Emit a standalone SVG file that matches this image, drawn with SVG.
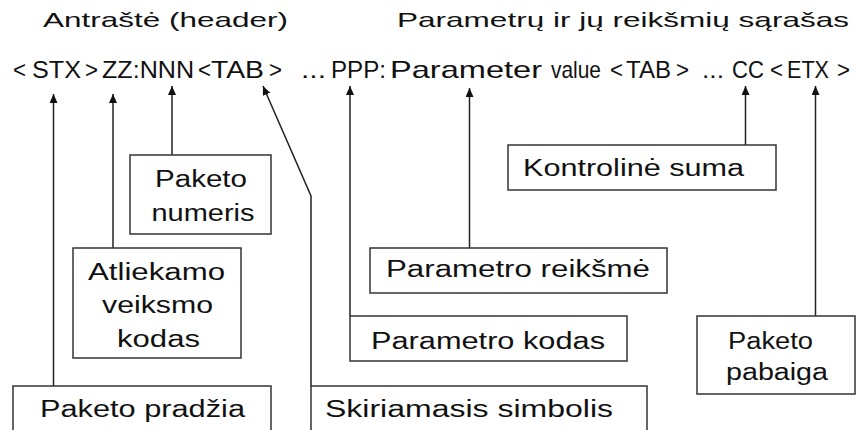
<svg xmlns="http://www.w3.org/2000/svg" width="856" height="430" viewBox="0 0 856 430">
  <style>
    text { font-family: "Liberation Sans", Arial, sans-serif; fill: #111; }
    .title { font-size: 21px; }
    .frame { font-size: 24px; }
    .lbl { font-size: 23px; }
    .box { fill: #fff; stroke: #333; stroke-width: 1.5; }
    .link { fill: none; stroke: #222; stroke-width: 1.5; }
  </style>
  <defs>
    <marker id="arrow" markerUnits="userSpaceOnUse" markerWidth="12" markerHeight="10" refX="9" refY="4" orient="auto">
      <path d="M0,0 L9,4 L0,8 Z" fill="#111"/>
    </marker>
  </defs>

  <rect width="856" height="430" fill="#fff"/>

  <!-- section titles -->
  <g id="titles">
    <text class="title" x="43" y="27" textLength="245" lengthAdjust="spacingAndGlyphs">Antraštė (header)</text>
    <text class="title" x="397" y="27" textLength="452" lengthAdjust="spacingAndGlyphs">Parametrų ir jų reikšmių sąrašas</text>
  </g>

  <!-- packet frame layout -->
  <g id="frame" class="frame">
    <text x="13" y="78" textLength="13" lengthAdjust="spacingAndGlyphs">&lt;</text>
    <text x="32" y="78" textLength="49" lengthAdjust="spacingAndGlyphs">STX</text>
    <text x="85" y="78" textLength="13" lengthAdjust="spacingAndGlyphs">&gt;</text>
    <text x="102" y="78" textLength="92" lengthAdjust="spacingAndGlyphs">ZZ:NNN</text>
    <text x="198" y="78" textLength="13" lengthAdjust="spacingAndGlyphs">&lt;</text>
    <text x="211" y="78" textLength="53" lengthAdjust="spacingAndGlyphs">TAB</text>
    <text x="269" y="78" textLength="13" lengthAdjust="spacingAndGlyphs">&gt;</text>
    <text x="301" y="78" textLength="25" lengthAdjust="spacingAndGlyphs">...</text>
    <text x="331" y="78" textLength="55" lengthAdjust="spacingAndGlyphs">PPP:</text>
    <text x="390" y="78" textLength="152" lengthAdjust="spacingAndGlyphs">Parameter</text>
    <text x="551" y="78" textLength="50" lengthAdjust="spacingAndGlyphs">value</text>
    <text x="610" y="78" textLength="13" lengthAdjust="spacingAndGlyphs">&lt;</text>
    <text x="626" y="78" textLength="45" lengthAdjust="spacingAndGlyphs">TAB</text>
    <text x="676" y="78" textLength="13" lengthAdjust="spacingAndGlyphs">&gt;</text>
    <text x="702" y="78" textLength="22" lengthAdjust="spacingAndGlyphs">...</text>
    <text x="732" y="78" textLength="32" lengthAdjust="spacingAndGlyphs">CC</text>
    <text x="770" y="78" textLength="13" lengthAdjust="spacingAndGlyphs">&lt;</text>
    <text x="787" y="78" textLength="42" lengthAdjust="spacingAndGlyphs">ETX</text>
    <text x="837" y="78" textLength="13" lengthAdjust="spacingAndGlyphs">&gt;</text>
  </g>

  <!-- connectors from the labels to the frame fields -->
  <g id="connectors">
    <path class="link" d="M53.5,386 V94" marker-end="url(#arrow)"/>
    <path class="link" d="M113,248 V94" marker-end="url(#arrow)"/>
    <path class="link" d="M172,155 V86" marker-end="url(#arrow)"/>
    <path class="link" d="M311,386 V196 L263,86" marker-end="url(#arrow)"/>
    <path class="link" d="M350,316 V86" marker-end="url(#arrow)"/>
    <path class="link" d="M469.5,248 V88" marker-end="url(#arrow)"/>
    <path class="link" d="M745.5,145 V86" marker-end="url(#arrow)"/>
    <path class="link" d="M815.5,316 V86" marker-end="url(#arrow)"/>
  </g>

  <g id="paketo-numeris">
    <rect class="box" x="130" y="155" width="141" height="79"/>
    <text class="lbl" x="201" y="187" text-anchor="middle" textLength="92" lengthAdjust="spacingAndGlyphs">Paketo</text>
    <text class="lbl" x="203" y="221" text-anchor="middle" textLength="103" lengthAdjust="spacingAndGlyphs">numeris</text>
  </g>

  <g id="atliekamo-veiksmo-kodas">
    <rect class="box" x="73" y="248" width="168" height="110"/>
    <text class="lbl" x="156.5" y="280" text-anchor="middle" textLength="137" lengthAdjust="spacingAndGlyphs">Atliekamo</text>
    <text class="lbl" x="157.5" y="313" text-anchor="middle" textLength="111" lengthAdjust="spacingAndGlyphs">veiksmo</text>
    <text class="lbl" x="158.5" y="347" text-anchor="middle" textLength="83" lengthAdjust="spacingAndGlyphs">kodas</text>
  </g>

  <g id="paketo-pradzia">
    <rect class="box" x="13" y="386" width="258" height="60"/>
    <text class="lbl" x="40" y="417" textLength="205" lengthAdjust="spacingAndGlyphs">Paketo pradžia</text>
  </g>

  <g id="skiriamasis-simbolis">
    <rect class="box" x="311" y="386" width="336" height="60"/>
    <text class="lbl" x="325" y="417" textLength="288" lengthAdjust="spacingAndGlyphs">Skiriamasis simbolis</text>
  </g>

  <g id="parametro-kodas">
    <rect class="box" x="350" y="316" width="277" height="45"/>
    <text class="lbl" x="371" y="349" textLength="234" lengthAdjust="spacingAndGlyphs">Parametro kodas</text>
  </g>

  <g id="parametro-reiksme">
    <rect class="box" x="370" y="248" width="297" height="45"/>
    <text class="lbl" x="386" y="277" textLength="264" lengthAdjust="spacingAndGlyphs">Parametro reikšmė</text>
  </g>

  <g id="kontroline-suma">
    <rect class="box" x="508" y="145" width="268" height="45"/>
    <text class="lbl" x="523" y="176" textLength="221" lengthAdjust="spacingAndGlyphs">Kontrolinė suma</text>
  </g>

  <g id="paketo-pabaiga">
    <rect class="box" x="697" y="316" width="158" height="78"/>
    <text class="lbl" x="770.5" y="349" text-anchor="middle" textLength="85" lengthAdjust="spacingAndGlyphs">Paketo</text>
    <text class="lbl" x="777" y="380" text-anchor="middle" textLength="102" lengthAdjust="spacingAndGlyphs">pabaiga</text>
  </g>
</svg>
